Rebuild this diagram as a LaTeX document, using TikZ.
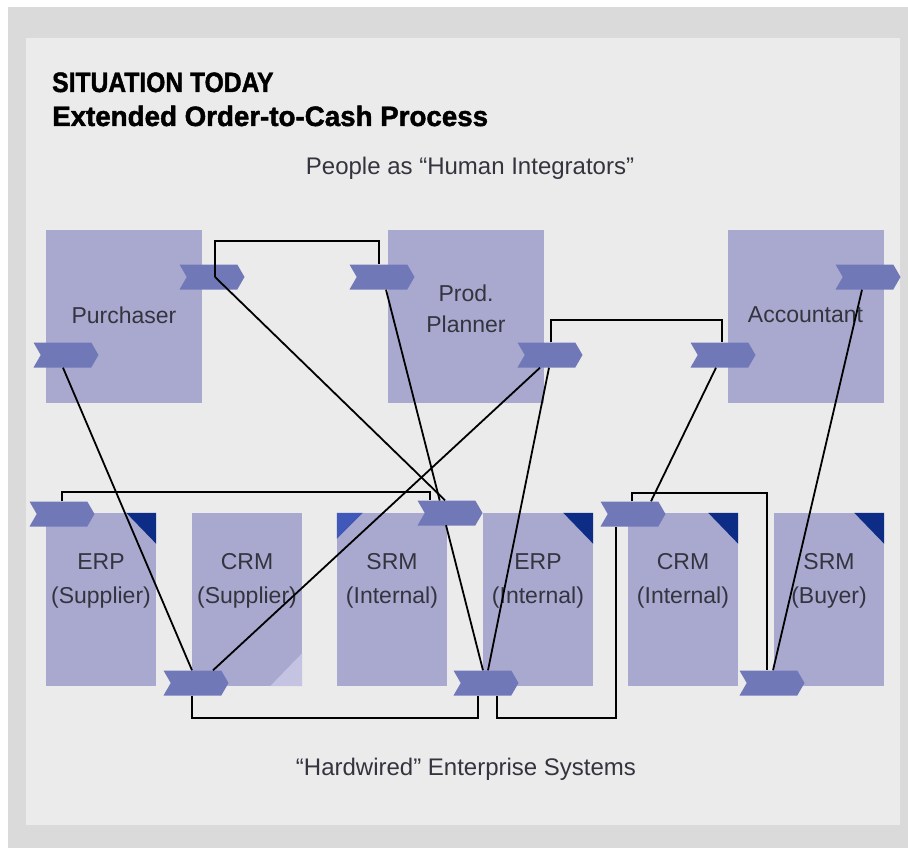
\documentclass[tikz,border=0pt]{standalone}
\usepackage{fontspec}
\setmainfont{Liberation Sans}
\newfontfamily\headfont[FakeBold=1.6]{Liberation Sans Bold}
\usepackage{tikz}
\usetikzlibrary{shapes.symbols,calc}
\definecolor{panelgray}{HTML}{EBEBEB}
\definecolor{bandgray}{HTML}{DADADA}
\definecolor{boxlilac}{HTML}{A9A9D0}
\definecolor{tagblue}{HTML}{7078B8}
\definecolor{cornernavy}{HTML}{0C2C86}
\definecolor{cornermid}{HTML}{4058B8}
\definecolor{cornerpale}{HTML}{C4C4E2}
\definecolor{labelgray}{HTML}{34343F}

\begin{document}
\begin{tikzpicture}[x=1pt, y=-1pt,
      every node/.style = {inner sep=0pt, text=labelgray},
      person/.style = {rectangle, fill=boxlilac, minimum width=156pt, minimum height=173pt},
      system/.style = {rectangle, fill=boxlilac, minimum width=110pt, minimum height=173pt},
      boxtext/.style = {align=center, font=\fontsize{23}{34}\selectfont},
      tag/.style = {signal, signal to=east, signal from=west, signal pointer angle=120,
                    fill=tagblue, minimum width=65pt, minimum height=25pt},
      wire/.style = {line width=1.8pt, black},
      caption/.style = {font=\fontsize{24}{28}\selectfont, anchor=base},
      heading/.style = {font=\fontsize{28}{32}\selectfont\headfont, text=black, anchor=base west}]

      \fill[white] (0,0) rectangle (908,848);
      \fill[bandgray] (8,7) rectangle (908,848);
      \fill[panelgray] (26,38) rectangle (900,825);

      \node (situation) [heading] at (52,92) {\scalebox{0.88}[1]{SITUATION TODAY}};
      \node (order) [heading] at (52,126) {\scalebox{0.99}[1]{Extended Order-to-Cash Process}};
      \node (people) [caption] at (470,175) {People as ``Human Integrators''};
      \node (hardwired) [caption] at (466,775) {``Hardwired'' Enterprise Systems};

      \node (purchaser) [person] at (124,316.5) {};
      \node (planner) [person] at (466,316.5) {};
      \node (accountant) [person] at (805.5,316.5) {};
      \node (purchaser-text) [boxtext] at (124,315) {Purchaser};
      \node (planner-text) [boxtext] at (466,309) {Prod.\\[-3pt]Planner};
      \node (accountant-text) [boxtext] at (805.5,315) {Accountant};

      \foreach \name/\x/\sys/\owner in {erps/101/ERP/Supplier, crms/247/CRM/Supplier,
            srmi/392/SRM/Internal, erpi/538/ERP/Internal, crmi/683/CRM/Internal, srmb/829/SRM/Buyer}{
        \node (\name) [system] at (\x,599.5) {};
        \node (\name-text) [boxtext] at (\x,581) {\sys\\(\owner)};
      }
      \foreach \name in {erps,erpi,crmi,srmb}
        \fill[cornernavy] (\name.north east) -- ++(-30,0) -- ++(30,31) -- cycle;
      \fill[cornermid] (srmi.north west) -- ++(26,0) -- ++(-26,26) -- cycle;
      \fill[cornerpale] (crms.south east) -- ++(0,-33) -- ++(-32,33) -- cycle;

      \node (purchA) [tag] at (212,277) {};
      \node (purchB) [tag] at (66,355) {};
      \node (plannA) [tag] at (382,277) {};
      \node (plannB) [tag] at (550,355) {};
      \node (accA) [tag] at (723,355) {};
      \node (accB) [tag] at (868,277) {};
      \node (erpsT) [tag] at (62,514) {};
      \node (crmsB) [tag] at (196,683) {};
      \node (erpiT) [tag] at (450,513) {};
      \node (erpiB) [tag] at (486,683) {};
      \node (crmiT) [tag] at (633,514) {};
      \node (srmbB) [tag] at (772,683) {};

      \coordinate (plannfoot) at ([xshift=4]plannA.south);
      \coordinate (erpihead) at ([xshift=-3]erpiB.north);
      \draw[wire] ([xshift=3]purchA.center) -- ++(0,-36) -| ([xshift=-3]plannA.north);
      \draw[wire] ([xshift=3]purchA.center) -- ([xshift=-5]erpiT.north);
      \draw[wire] (plannfoot) -- ($(plannfoot)!0.554!(erpihead)$)
                  ($(plannfoot)!0.619!(erpihead)$) -- (erpihead);
      \draw[wire] (erpsT.north) -- ++(0,-9) -| ([xshift=-20]erpiT.north);
      \draw[wire] ([xshift=-3]purchB.south) -- ([xshift=-4]crmsB.north);
      \draw[wire] ([xshift=17]crmsB.north) -- ([xshift=-10]plannB.south);
      \draw[wire] ([xshift=-4]crmsB.south) -- ++(0,22) -| ([xshift=-8]erpiB.south);
      \draw[wire] ([xshift=11]erpiB.south) -- ++(0,22) -| ([xshift=-17]crmiT.south);
      \draw[wire] ([xshift=1]plannB.north) -- ++(0,-22.5) -| ([xshift=-1]accA.north);
      \draw[wire] ([xshift=-1]plannB.south) -- ([xshift=2]erpiB.north);
      \draw[wire] ([xshift=-7]accA.south) -- ([xshift=18]crmiT.north);
      \draw[wire] ([xshift=-1]crmiT.north) -- ++(0,-8.5) -| ([xshift=-5]srmbB.north);
      \draw[wire] ([xshift=-6]accB.south) -- ([xshift=1]srmbB.north);
\end{tikzpicture}
\end{document}
